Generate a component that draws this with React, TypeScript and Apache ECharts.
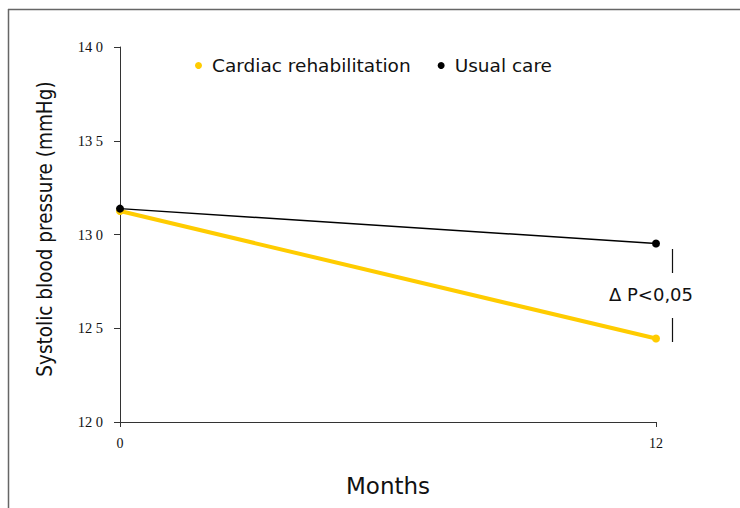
import React, { useEffect, useRef } from "react";
import * as echarts from "echarts";

const months = [0, 12];
const cardiacRehab = [131.25, 124.45];
const usualCare = [131.38, 129.52];
const yTicks = [120, 125, 130, 135, 140];

export default function App() {
  const ref = useRef<HTMLDivElement>(null);
  useEffect(() => {
    if (!ref.current) return;
    const chart = echarts.init(ref.current, null, { renderer: "svg" });
    const sans = "DejaVu Sans";
    chart.setOption({
      animation: false,
      backgroundColor: "#ffffff",
      grid: { left: 120, right: 84, top: 47, bottom: 86 },
      legend: {
        left: 190,
        top: 51,
        icon: "circle",
        itemWidth: 7,
        itemHeight: 7,
        itemGap: 27,
        textStyle: { fontFamily: sans, fontSize: 18.5, color: "#111", padding: [0, 0, 0, 5] },
        data: ["Cardiac rehabilitation", "Usual care"],
      },
      xAxis: {
        type: "value",
        min: 0,
        max: 12,
        interval: 12,
        axisLine: { lineStyle: { color: "#333", width: 1 } },
        axisTick: { show: true, length: 5, lineStyle: { color: "#333" } },
        splitLine: { show: false },
        axisLabel: { fontFamily: "Liberation Serif", fontSize: 14, color: "#111", margin: 14 },
        name: "Months",
        nameLocation: "middle",
        nameGap: 52,
        nameTextStyle: { fontFamily: sans, fontSize: 23, color: "#111" },
      },
      yAxis: {
        type: "value",
        min: yTicks[0],
        max: yTicks[yTicks.length - 1],
        interval: 5,
        axisLine: { show: true, lineStyle: { color: "#333", width: 1 } },
        axisTick: { show: true, length: 6, lineStyle: { color: "#333" } },
        splitLine: { show: false },
        axisLabel: {
          fontFamily: "Liberation Serif",
          fontSize: 14.5,
          color: "#111",
          margin: 17,
          formatter: (v: number) => {
            const s = String(v);
            return s.slice(0, 2) + " " + s.slice(2);
          },
        },
      },
      series: [
        {
          name: "Cardiac rehabilitation",
          type: "line",
          data: months.map((m, i) => [m, cardiacRehab[i]]),
          color: "#FFCC00",
          lineStyle: { width: 4, color: "#FFCC00" },
          symbol: "circle",
          symbolSize: 8,
          itemStyle: { color: "#FFCC00" },
          z: 2,
        },
        {
          name: "Usual care",
          type: "line",
          data: months.map((m, i) => [m, usualCare[i]]),
          color: "#000000",
          lineStyle: { width: 1.5, color: "#000000" },
          symbol: "circle",
          symbolSize: 8,
          itemStyle: { color: "#000000" },
          z: 3,
        },
      ],
      graphic: [
        { type: "line", shape: { x1: 8, y1: 9.5, x2: 740, y2: 9.5 }, style: { stroke: "#666", lineWidth: 1.5 } },
        { type: "line", shape: { x1: 8.5, y1: 9, x2: 8.5, y2: 508 }, style: { stroke: "#666", lineWidth: 1.5 } },
        {
          type: "text",
          x: 45,
          y: 229,
          rotation: Math.PI / 2,
          style: {
            text: "Systolic blood pressure (mmHg)",
            fontFamily: "DejaVu Sans Condensed",
            fontSize: 20.5,
            fill: "#111",
            align: "center",
            verticalAlign: "middle",
          },
        },
        {
          type: "text",
          x: 651,
          y: 294,
          style: {
            text: "Δ P<0,05",
            fontFamily: sans,
            fontSize: 18,
            fill: "#111",
            align: "center",
            verticalAlign: "middle",
          },
        },
        { type: "line", shape: { x1: 672.5, y1: 249, x2: 672.5, y2: 273 }, style: { stroke: "#111", lineWidth: 1.2 } },
        { type: "line", shape: { x1: 672.5, y1: 318, x2: 672.5, y2: 342 }, style: { stroke: "#111", lineWidth: 1.2 } },
      ],
    });
    return () => chart.dispose();
  }, []);
  return <div ref={ref} style={{ position: "absolute", left: 0, top: 0, width: 740, height: 508 }} />;
}
